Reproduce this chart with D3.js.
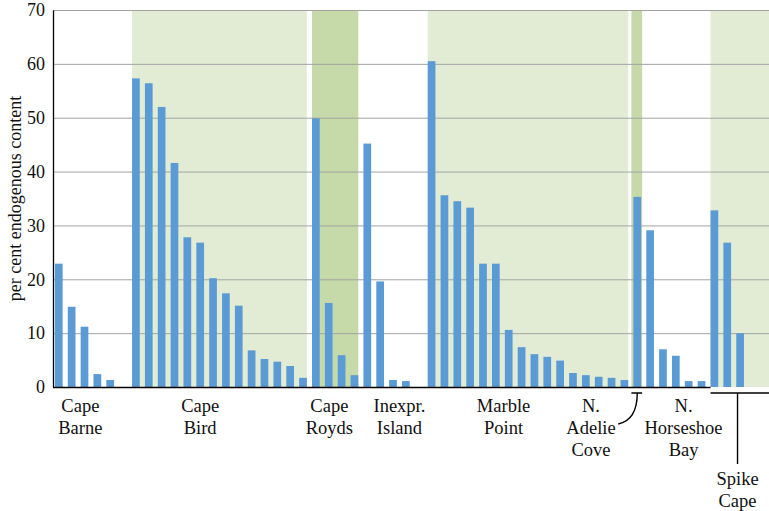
<!DOCTYPE html>
<html>
<head>
<meta charset="utf-8">
<script src="https://cdn.jsdelivr.net/npm/d3@7"></script>
<style>
  body { margin: 0; background: #fff; }
  svg { display: block; font-family: "Liberation Serif", "DejaVu Serif", serif; }
</style>
</head>
<body>
<div id="chart"></div>
<script>
// sites along the coast, in the order they are plotted
var sites = ["Cape Barne", "Cape Bird", "Cape Royds", "Inexpr. Island", "Marble Point", "N. Adelie Cove", "N. Horseshoe Bay", "Spike Cape"];
var siteLines = [["Cape", "Barne"], ["Cape", "Bird"], ["Cape", "Royds"], ["Inexpr.", "Island"], ["Marble", "Point"], ["N.", "Adelie", "Cove"], ["N.", "Horseshoe", "Bay"], ["Spike", "Cape"]];
// per cent endogenous content of each sample, per site
var siteValues = [
  [22.9, 14.9, 11.2, 2.4, 1.3],
  [57.3, 56.4, 52.0, 41.6, 27.8, 26.8, 20.2, 17.4, 15.1, 6.8, 5.2, 4.7, 3.9, 1.7],
  [49.9, 15.6, 5.9, 2.2],
  [45.2, 19.6, 1.3, 1.1],
  [60.5, 35.6, 34.5, 33.3, 22.9, 22.9, 10.6, 7.4, 6.1, 5.6, 4.9, 2.6, 2.2, 1.9, 1.7, 1.3],
  [35.3],
  [29.1, 7.0, 5.8, 1.1, 1.1],
  [32.8, 26.8, 10.0]
];
// background shading of each site: none, light or dark green
var siteShade = ["none", "light", "dark", "none", "light", "dark", "none", "light"];
// an empty slot is left after these sites
var gapAfter = ["Cape Barne", "Inexpr. Island"];
// where each site name sits, in bar slots
var labelSlot = [1.68, 11.0, 21.05, 26.5, 34.6, 41.4, 48.6, 52.8];
var yTicks = [0, 10, 20, 30, 40, 50, 60, 70];

var width = 769, height = 511;
var mLeft = 53, mTop = 10, mBottom = 387;

// lay the bars out in slots
var bars = [], groups = [];
var slot = 0;
sites.forEach(function(s, i) {
  var first = slot;
  siteValues[i].forEach(function(v) {
    bars.push({ site: s, slot: slot, value: v });
    slot++;
  });
  groups.push({ site: s, first: first, last: slot - 1, shade: siteShade[i], lines: siteLines[i], at: labelSlot[i] });
  if (gapAfter.indexOf(s) >= 0) slot++;
});
var nSlots = slot + 2;

var x = d3.scaleBand()
  .domain(d3.range(nSlots))
  .range([mLeft, mLeft + 12.855 * (nSlots - 0.4 + 0.3)])
  .paddingInner(0.4)
  .paddingOuter(0.15);
var bw = x.bandwidth();
var y = d3.scaleLinear().domain([0, 70]).range([mBottom, mTop]);

function slotCenter(s) { return x(0) + bw / 2 + s * x.step(); }

var svg = d3.select("#chart").append("svg")
  .attr("width", width)
  .attr("height", height);

// shaded site backgrounds
var shadeColor = { light: "#e2ecd4", dark: "#c5d9a9" };
var lastSlot = bars[bars.length - 1].slot;
function bandX0(g) { return g.first == g.last ? x(g.first) - 2 : x(g.first); }
function bandX1(g) {
  if (g.last == lastSlot) return width;
  return x(g.last) + bw + (g.first == g.last ? 1 : 0);
}
svg.append("g").selectAll("rect")
  .data(groups.filter(function(g) { return g.shade != "none"; }))
  .enter().append("rect")
  .attr("x", bandX0)
  .attr("y", mTop)
  .attr("width", function(g) { return bandX1(g) - bandX0(g); })
  .attr("height", mBottom - mTop)
  .style("fill", function(g) { return shadeColor[g.shade]; });

// gridlines
svg.append("g").selectAll("line")
  .data(yTicks.filter(function(t) { return t > 0; }))
  .enter().append("line")
  .attr("x1", mLeft).attr("x2", width)
  .attr("y1", function(t) { return y(t) + 0.5; })
  .attr("y2", function(t) { return y(t) + 0.5; })
  .style("stroke", "#a3a3a3")
  .style("stroke-width", 1);

// bars
svg.append("g").selectAll("rect")
  .data(bars)
  .enter().append("rect")
  .attr("x", function(d) { return x(d.slot); })
  .attr("y", function(d) { return y(d.value); })
  .attr("width", bw)
  .attr("height", function(d) { return y(0) - y(d.value); })
  .style("fill", "#5b9bd5");

// y axis
var yAxis = svg.append("g")
  .attr("transform", "translate(" + mLeft + ",0)")
  .call(d3.axisLeft(y).tickValues(yTicks).tickSize(0).tickPadding(8));
yAxis.select(".domain").style("stroke", "#000").style("stroke-width", 1.3);
yAxis.selectAll("text")
  .style("font-family", "Liberation Serif, serif")
  .style("font-size", "18px")
  .style("fill", "#111");

// x axis line stops where Spike Cape starts
var spike = groups[groups.length - 1];
svg.append("line")
  .attr("x1", mLeft).attr("x2", x(spike.first))
  .attr("y1", mBottom + 0.5).attr("y2", mBottom + 0.5)
  .style("stroke", "#000").style("stroke-width", 1.3);

svg.append("text")
  .attr("transform", "translate(21," + ((mTop + mBottom) / 2) + ") rotate(-90)")
  .attr("text-anchor", "middle")
  .style("font-size", "18px")
  .style("fill", "#111")
  .text("per cent endogenous content");

// site labels
var labels = svg.append("g").selectAll("text")
  .data(groups)
  .enter().append("text")
  .attr("text-anchor", "middle")
  .style("font-size", "18.5px")
  .style("fill", "#111");
labels.each(function(g) {
  var t = d3.select(this);
  var base = g.site == "Spike Cape" ? 485 : 412;
  g.lines.forEach(function(l, j) {
    t.append("tspan")
      .attr("x", slotCenter(g.at))
      .attr("y", base + j * 22)
      .text(l);
  });
});

// bracket for N. Adelie Cove
var adelie = groups[5];
var ax = x(adelie.first) + bw / 2;
svg.append("path")
  .attr("d", "M" + (x(adelie.first) - 2) + ",393H" + (x(adelie.first) + bw + 1)
    + "M" + ax + ",393 C" + ax + ",410 " + (ax - 5) + ",421 " + (ax - 19) + ",424")
  .style("fill", "none").style("stroke", "#000").style("stroke-width", 1.4);

// bracket for Spike Cape
var sx = slotCenter(spike.at);
svg.append("path")
  .attr("d", "M" + x(spike.first) + ",393H" + width + "M" + sx + ",393V464")
  .style("fill", "none").style("stroke", "#000").style("stroke-width", 1.4);
</script>
</body>
</html>
